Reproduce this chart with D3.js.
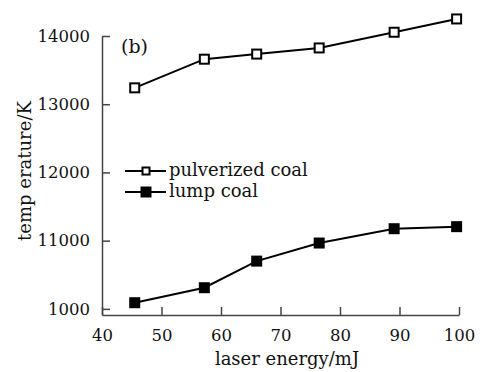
<!DOCTYPE html>
<html>
<head>
  <meta charset="utf-8">
  <script src="https://cdn.jsdelivr.net/npm/d3@7"></script>
  <style>
    body { margin: 0; background: #fff; }
    text { font-family: "DejaVu Serif", serif; }
  </style>
</head>
<body>
<script>
  // data
  var energy = [45.5, 57.2, 66.0, 76.5, 89.1, 99.6];
  var pulverized = [13240, 13660, 13735, 13825, 14055, 14250];
  var lump = [10090, 10310, 10700, 10965, 11175, 11205];
  var xTicks = [40, 50, 60, 70, 80, 90, 100];
  var yTicks = [10000, 11000, 12000, 13000, 14000];
  var yTickLabels = ['1000', '11000', '12000', '13000', '14000'];

  var W = 482, H = 372;
  var svg = d3.select('body').append('svg')
    .attr('width', W).attr('height', H);

  var x = d3.scaleLinear().domain([40, 100]).range([102, 459]);
  var y = d3.scaleLinear().domain([9910, 14000]).range([315, 36]);

  var axisColor = '#444';

  // x axis
  var gx = svg.append('g')
    .attr('transform', 'translate(0,' + y(9910) + ')')
    .call(d3.axisBottom(x).tickValues(xTicks).tickSize(-8).tickPadding(14).tickSizeOuter(0));
  // y axis
  var gy = svg.append('g')
    .attr('transform', 'translate(' + x(40) + ',0)')
    .call(d3.axisLeft(y).tickValues(yTicks).tickSize(-8).tickPadding(12).tickSizeOuter(0)
      .tickFormat(function(d, i) { return yTickLabels[i]; }));

  [gx, gy].forEach(function(g) {
    g.select('.domain').attr('stroke', axisColor).attr('stroke-width', 1.5);
    g.selectAll('.tick line').attr('stroke', axisColor).attr('stroke-width', 1.5);
    g.selectAll('.tick text').attr('fill', '#111')
      .style('font-family', '"DejaVu Serif", serif').style('font-size', '16.5px');
  });

  // axis titles
  svg.append('text')
    .attr('x', 287).attr('y', 365)
    .attr('text-anchor', 'middle')
    .style('font-size', '18px').attr('fill', '#111')
    .text('laser energy/mJ');
  svg.append('text')
    .attr('transform', 'translate(31,171) rotate(-90)')
    .attr('text-anchor', 'middle')
    .style('font-size', '18px').attr('fill', '#111')
    .text('temp erature/K');

  svg.append('text')
    .attr('x', 121).attr('y', 53)
    .style('font-size', '19px').attr('fill', '#111')
    .text('(b)');

  var line = d3.line()
    .x(function(d) { return x(d[0]); })
    .y(function(d) { return y(d[1]); });

  var series = [
    { name: 'pulverized coal', values: pulverized, fill: '#fff', legendSize: 7 },
    { name: 'lump coal', values: lump, fill: '#000', legendSize: 9 }
  ];

  var ms = 9;
  series.forEach(function(s) {
    var pts = energy.map(function(e, i) { return [e, s.values[i]]; });
    svg.append('path')
      .datum(pts)
      .attr('d', line)
      .attr('fill', 'none')
      .attr('stroke', '#000')
      .attr('stroke-width', 2);
    svg.selectAll(null)
      .data(pts)
      .enter().append('rect')
      .attr('x', function(d) { return x(d[0]) - ms / 2; })
      .attr('y', function(d) { return y(d[1]) - ms / 2; })
      .attr('width', ms).attr('height', ms)
      .attr('fill', s.fill)
      .attr('stroke', '#000')
      .attr('stroke-width', 2);
  });

  // legend
  var legend = svg.append('g');
  series.forEach(function(s, i) {
    var ly = 171 + i * 21;
    var ls = s.legendSize;
    legend.append('line')
      .attr('x1', 125).attr('x2', 166)
      .attr('y1', ly).attr('y2', ly)
      .attr('stroke', '#000').attr('stroke-width', 2);
    legend.append('rect')
      .attr('x', 146 - ls / 2).attr('y', ly - ls / 2)
      .attr('width', ls).attr('height', ls)
      .attr('fill', s.fill).attr('stroke', '#000').attr('stroke-width', 2);
    legend.append('text')
      .attr('x', 169).attr('y', ly + 5)
      .style('font-size', '18px').attr('fill', '#111')
      .text(s.name);
  });
</script>
</body>
</html>
